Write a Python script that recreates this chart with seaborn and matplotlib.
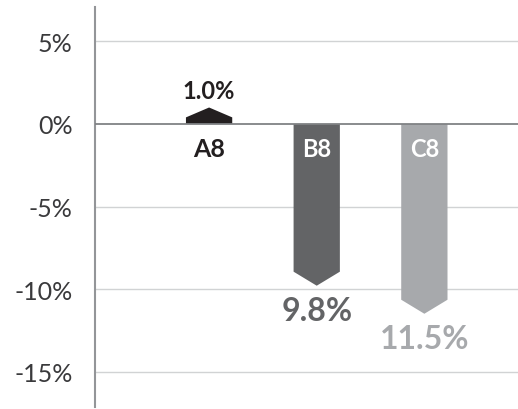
import matplotlib
matplotlib.use("Agg")
import matplotlib.pyplot as plt
import numpy as np
import pandas as pd
import seaborn as sns
from matplotlib.patches import Polygon

# data
groups = ["A8", "B8", "C8"]
changes = [1.0, -9.8, -11.5]
colors = ["#231f20", "#636466", "#a7a9ac"]
value_labels = ["1.0%", "9.8%", "11.5%"]
yticks = [5, 0, -5, -10, -15]

sns.set_theme(style="white")
plt.rcParams["font.family"] = ["Lato", "DejaVu Sans"]

fig = plt.figure(figsize=(5.18, 4.10), dpi=100)
ax = fig.add_axes([95 / 518, 2 / 410, 423 / 518, 400 / 410])

df = pd.DataFrame({"group": groups, "change": changes})
sns.barplot(data=df, x="group", y="change", hue="group", palette=colors,
            width=0.43, legend=False, ax=ax, zorder=3)

# turn the bars into arrows, tip at the value
for patch, val, col in zip(ax.patches, changes, colors):
    x0 = patch.get_x()
    w = patch.get_width()
    head = 0.6 if abs(val) < 2 else 0.85
    sgn = np.sign(val)
    shoulder = val - sgn * head
    pts = [(x0, 0), (x0, shoulder), (x0 + w / 2, val), (x0 + w, shoulder), (x0 + w, 0)]
    ax.add_patch(Polygon(pts, closed=True, facecolor=col, edgecolor="none", zorder=3))
    patch.set_visible(False)

ax.set_xlim(-1.06, 2.87)
ax.set_ylim(-17.15, 7.09)
ax.set_yticks(yticks)
ax.set_yticklabels([f"{t}%" for t in yticks])
ax.set_xticks([])
ax.set_xlabel("")
ax.set_ylabel("")
ax.tick_params(axis="y", length=0, pad=16, labelsize=18, labelcolor="#3a3a3c")

for t in yticks:
    ax.axhline(t, color="#808285" if t == 0 else "#d1d3d4",
               lw=1.3 if t == 0 else 1.0, zorder=1 if t else 4)

for s in ["top", "right", "bottom"]:
    ax.spines[s].set_visible(False)
ax.spines["left"].set_color("#939598")
ax.spines["left"].set_linewidth(1.5)

# group names
ax.text(0, -1.5, "A8", ha="center", va="center", fontsize=18,
        fontweight="bold", color="#231f20", zorder=5)
ax.text(1, -1.5, "B8", ha="center", va="center", fontsize=17,
        fontweight="bold", color="white", zorder=5)
ax.text(2, -1.5, "C8", ha="center", va="center", fontsize=17,
        fontweight="bold", color="white", zorder=5)

# value labels
ax.text(0, changes[0] + 0.35, value_labels[0], ha="center", va="bottom",
        fontsize=17, fontweight="bold", color=colors[0], zorder=5)
ax.text(1, changes[1] - 0.65, value_labels[1], ha="center", va="top",
        fontsize=23, fontweight="bold", color=colors[1], zorder=5)
ax.text(2, changes[2] - 0.65, value_labels[2], ha="center", va="top",
        fontsize=23, fontweight="bold", color=colors[2], zorder=5)

fig.savefig("out.png", dpi=100)
